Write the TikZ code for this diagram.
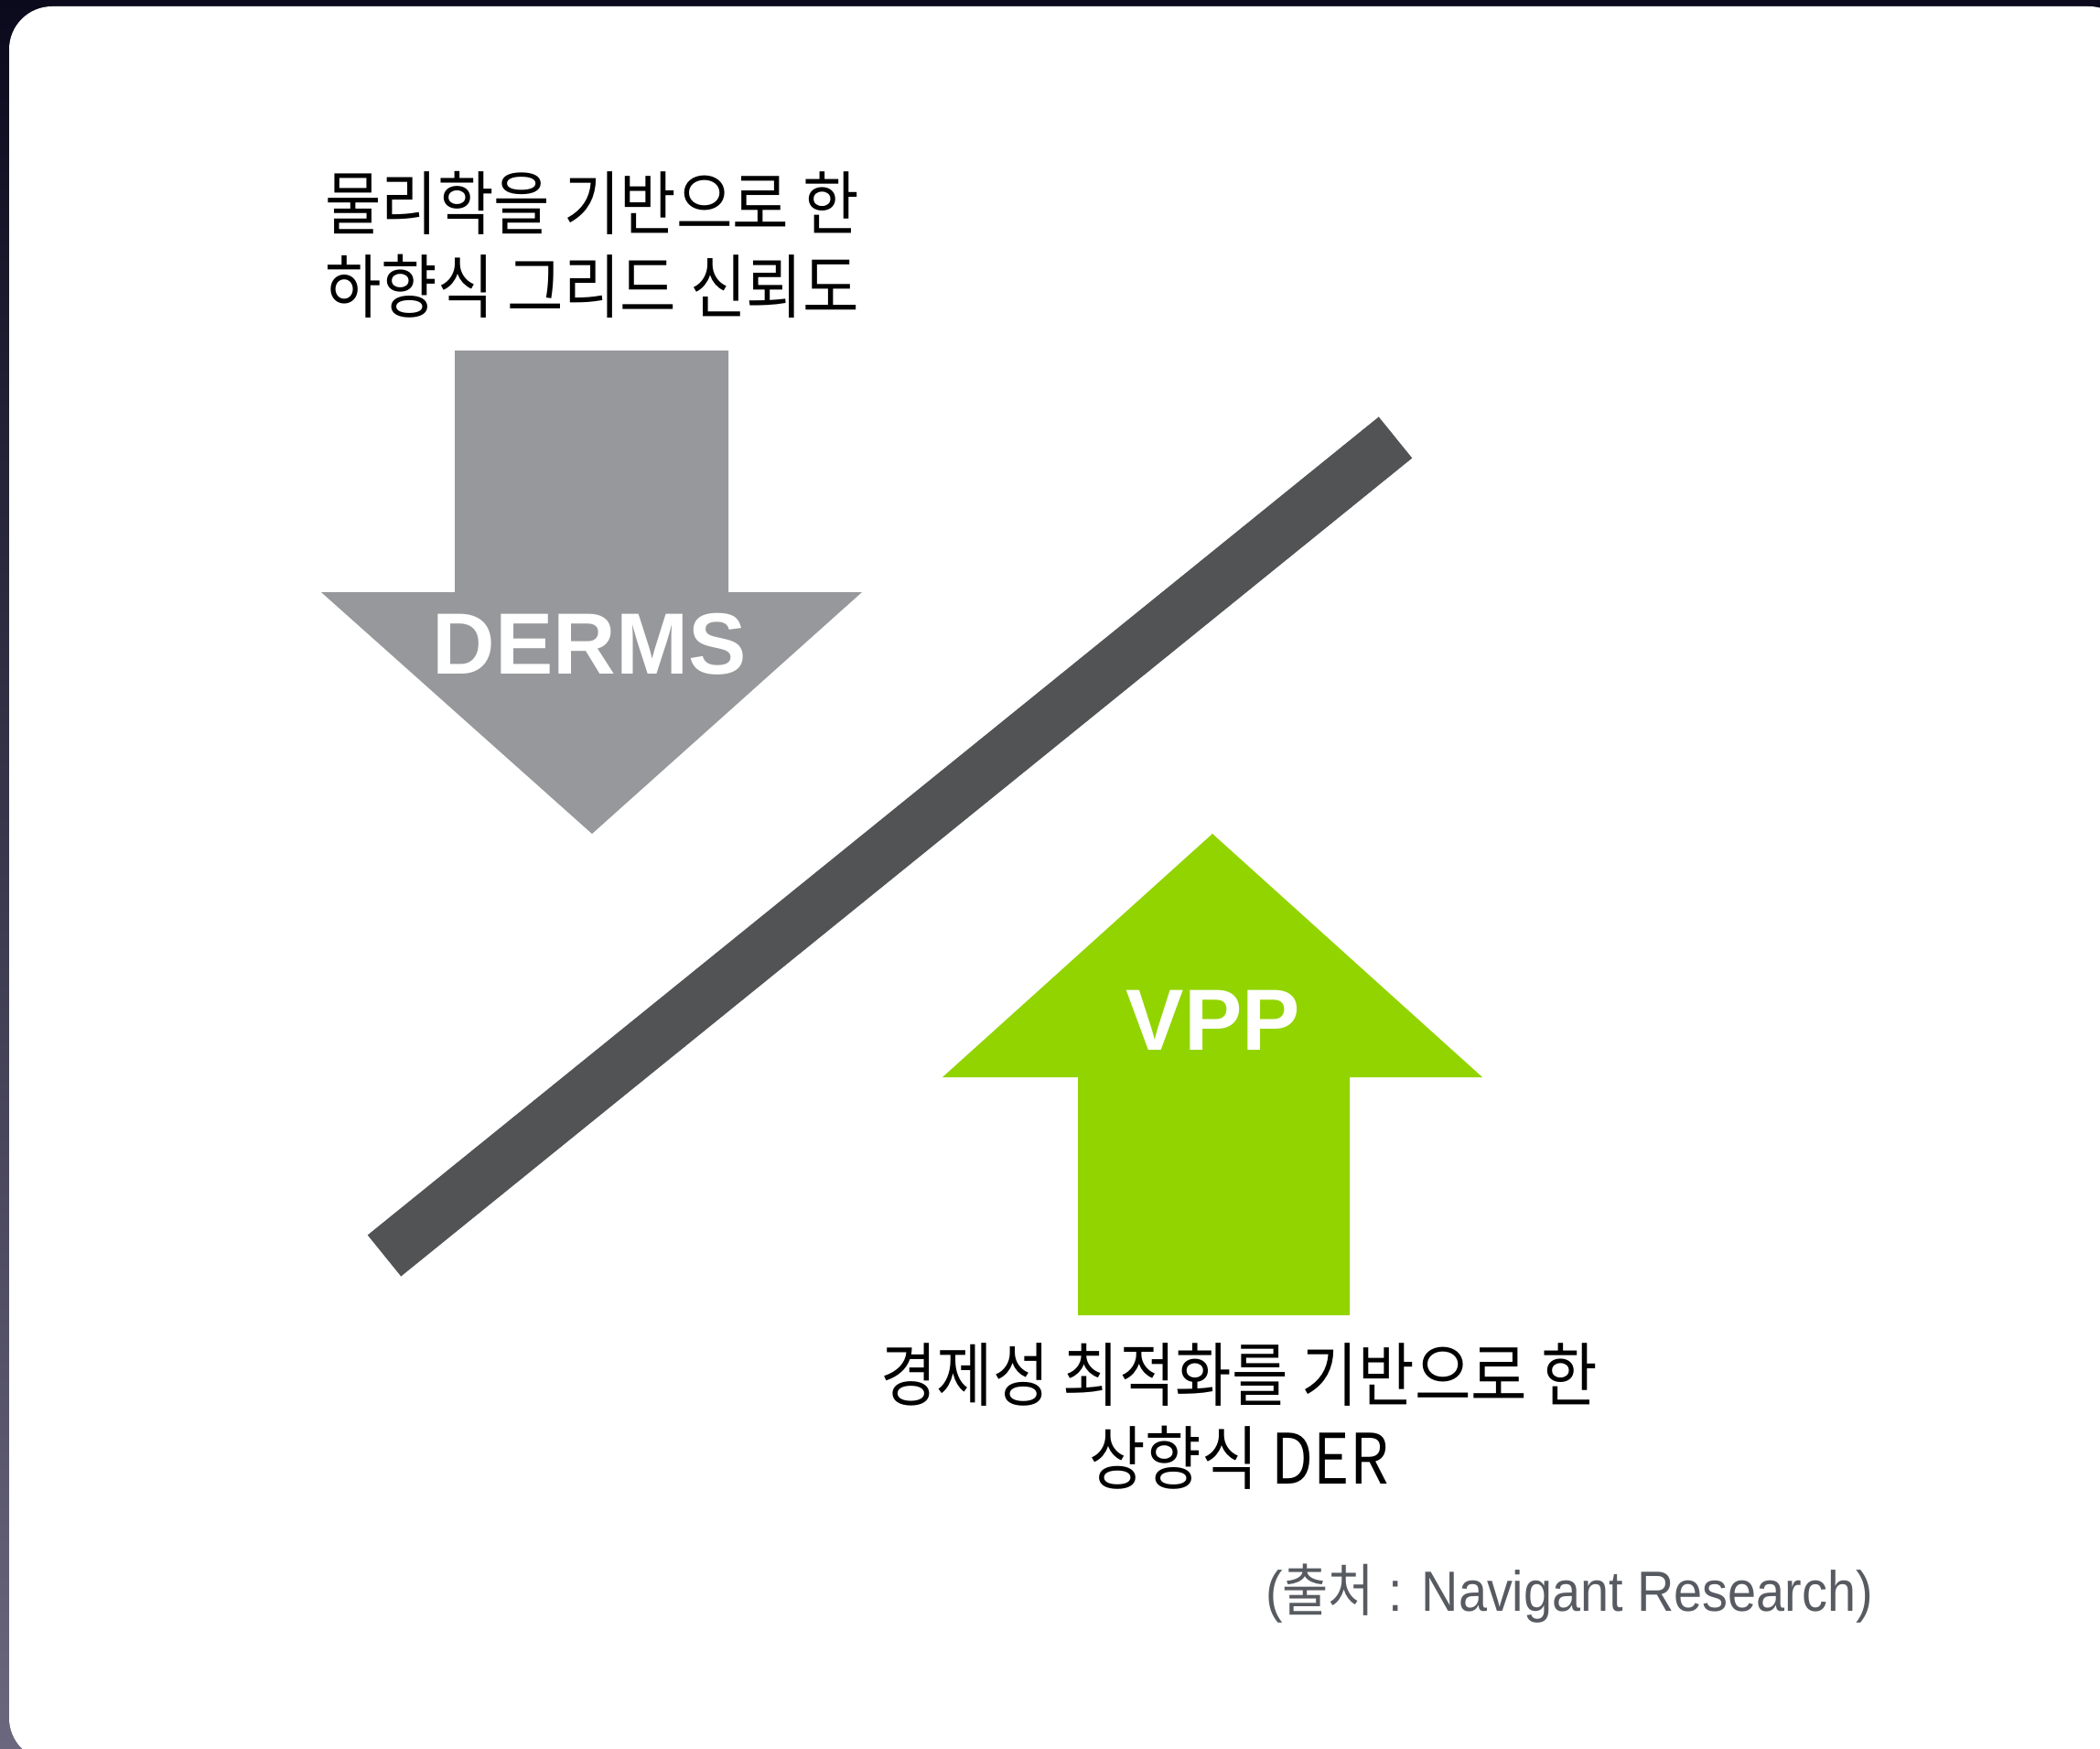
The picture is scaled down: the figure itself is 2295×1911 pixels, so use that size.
\documentclass[tikz,border=0pt]{standalone}
\usepackage{fontspec}
\setmainfont{Liberation Sans}
\newfontfamily\krfont[FakeStretch=0.88]{Noto Sans CJK KR}
\newfontfamily\srcfont[FakeStretch=0.9]{Liberation Sans}
\definecolor{frame}{HTML}{0B0A1D}
\definecolor{framelow}{HTML}{6A677E}
\definecolor{dermsgray}{HTML}{97989B}
\definecolor{vppgreen}{HTML}{92D400}
\definecolor{bargray}{HTML}{525354}
\definecolor{srcgray}{HTML}{575B61}

\begin{document}
\begin{tikzpicture}[x=1pt,y=-1pt,
  krtext/.style={font=\krfont\fontsize{76}{91}\selectfont, align=center, inner sep=0pt},
  srctext/.style={font=\srcfont\fontsize{62}{70}\selectfont, text=srcgray, inner sep=0pt},
  arrowtext/.style={font=\bfseries\fontsize{95}{100}\selectfont, text=white, inner sep=0pt}]
  \useasboundingbox (0,0) rectangle (2295,1911);
  \shade[top color=frame, bottom color=framelow] (0,0) rectangle (2295,1911);
  \fill[white, rounded corners=47] (10,7) rectangle (2330,1924);

  \fill[dermsgray] (497,383) -- (796,383) -- (796,647) -- (942,647) -- (647,911)
    -- (351,647) -- (497,647) -- cycle;
  \fill[vppgreen] (1178,1437) -- (1475,1437) -- (1475,1177) -- (1620,1177) -- (1325,911)
    -- (1030,1177) -- (1178,1177) -- cycle;
  \draw[bargray, line width=58] (420,1372) -- (1525,478);

  \node[krtext] (topnote) at (647,267) {물리학을 기반으로 한\\하향식 그리드 신뢰도};
  \node[arrowtext] (derms) at (644,704) {DERMS};
  \node[arrowtext] (vpp) at (1326,1115) {VPP};
  \node[krtext] (bottomnote) at (1354,1548) {경제성 최적화를 기반으로 한\\상향식 DER};
  \node[srctext] (source) at (1715,1741) {(\krfont 출처\srcfont{} : Navigant Research)};
\end{tikzpicture}
\end{document}
